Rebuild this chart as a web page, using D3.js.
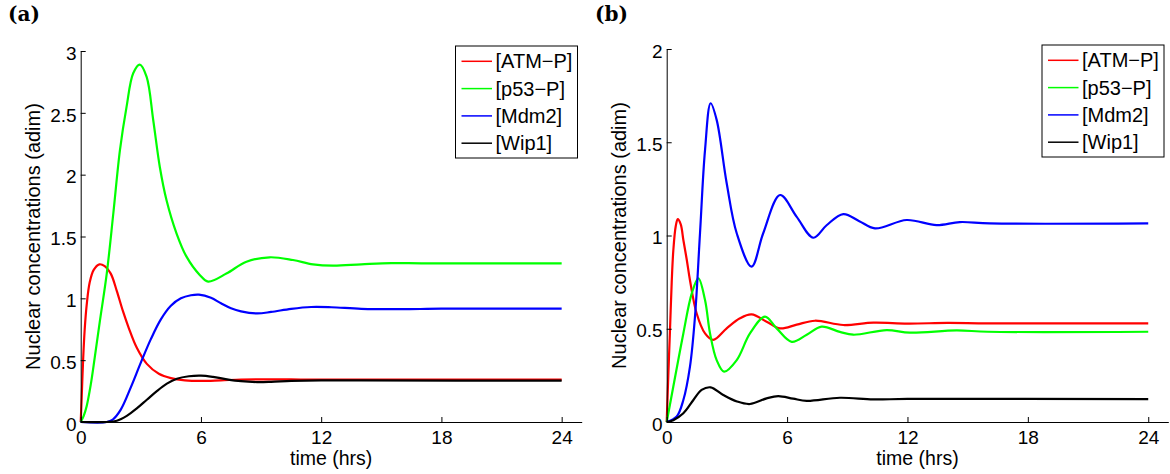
<!DOCTYPE html>
<html>
<head>
<meta charset="utf-8">
<script src="https://cdn.jsdelivr.net/npm/d3@7"></script>
<style>
  html, body { margin: 0; padding: 0; background: #fff; }
  svg { display: block; }
  text { font-family: "Liberation Sans", Arial, Helvetica, sans-serif; fill: #000; }
</style>
</head>
<body>
<svg id="chart" width="1170" height="474"></svg>
<script>
// ---------- DATA ----------
const seriesNames = ["[ATM\u2212P]", "[p53\u2212P]", "[Mdm2]", "[Wip1]"];
const seriesColors = ["#ff0000", "#00ff00", "#0000ff", "#000000"];
const xTicks = [0, 6, 12, 18, 24];
const yTicksA = [0, 0.5, 1, 1.5, 2, 2.5, 3];
const yTicksB = [0, 0.5, 1, 1.5, 2];

// Panel (a)
const tAtmA = [0, 0.05, 0.12, 0.2, 0.3, 0.45, 0.65, 0.93, 1.2, 1.5, 1.8, 2.1, 2.4, 2.8, 3.3, 3.9, 4.5, 5.2, 6.0, 7.0, 8.0, 9.0, 10.5, 12, 15, 18, 21, 24];
const vAtmA = [0, 0.2, 0.5, 0.75, 0.95, 1.13, 1.23, 1.275, 1.26, 1.2, 1.06, 0.9, 0.76, 0.6, 0.47, 0.39, 0.355, 0.337, 0.332, 0.337, 0.343, 0.345, 0.344, 0.343, 0.343, 0.343, 0.343, 0.343];
const tP53A = [0, 0.15, 0.3, 0.5, 0.7, 0.96, 1.3, 1.63, 1.96, 2.29, 2.62, 2.95, 3.29, 3.62, 3.95, 4.28, 4.78, 5.28, 5.94, 6.36, 7.27, 8.27, 9.43, 10.59, 11.59, 12.59, 14, 15.5, 17, 20, 24];
const vP53A = [0, 0.05, 0.13, 0.3, 0.52, 0.82, 1.2, 1.69, 2.2, 2.55, 2.82, 2.89, 2.79, 2.44, 2.06, 1.795, 1.526, 1.337, 1.189, 1.135, 1.2, 1.296, 1.332, 1.31, 1.275, 1.264, 1.275, 1.285, 1.283, 1.283, 1.283];
const tMdmA = [0, 1.3, 1.6, 2.0, 2.5, 3.0, 3.5, 4.0, 4.5, 5.0, 5.5, 5.9, 6.5, 7.0, 7.5, 8.0, 8.8, 9.5, 10.5, 11.5, 12.5, 14, 16, 18, 24];
const vMdmA = [0, 0, 0.02, 0.1, 0.28, 0.48, 0.67, 0.83, 0.94, 1.0, 1.025, 1.03, 1.005, 0.96, 0.92, 0.895, 0.878, 0.89, 0.915, 0.93, 0.928, 0.915, 0.912, 0.916, 0.916];
const tWipA = [0, 1.3, 1.8, 2.3, 2.8, 3.3, 3.8, 4.3, 4.8, 5.4, 6.0, 6.6, 7.3, 8.0, 8.8, 9.5, 10.5, 12, 14, 24];
const vWipA = [0, 0, 0.01, 0.05, 0.11, 0.18, 0.25, 0.31, 0.35, 0.37, 0.375, 0.365, 0.345, 0.33, 0.323, 0.325, 0.332, 0.337, 0.336, 0.335];

// Panel (b)
const tAtmB = [0, 0.08, 0.16, 0.25, 0.33, 0.45, 0.55, 0.7, 0.83, 1.0, 1.16, 1.49, 1.91, 2.32, 2.99, 3.65, 4.23, 4.98, 5.65, 6.48, 7.39, 8.8, 10.3, 12, 14, 16, 24];
const vAtmB = [0, 0.25, 0.48, 0.75, 0.92, 1.05, 1.088, 1.06, 0.976, 0.87, 0.76, 0.583, 0.475, 0.44, 0.502, 0.556, 0.577, 0.538, 0.502, 0.522, 0.543, 0.52, 0.533, 0.528, 0.531, 0.529, 0.529];
const tP53B = [0, 0.33, 0.83, 1.25, 1.58, 1.91, 2.16, 2.49, 2.86, 3.49, 4.15, 4.9, 5.48, 6.23, 6.98, 7.72, 8.63, 9.3, 10.96, 12.12, 14.45, 16, 24];
const vP53B = [0, 0.19, 0.475, 0.69, 0.77, 0.654, 0.475, 0.332, 0.27, 0.332, 0.475, 0.565, 0.502, 0.43, 0.468, 0.511, 0.483, 0.468, 0.493, 0.479, 0.491, 0.484, 0.484];
const tMdmB = [0, 0.5, 0.83, 1.16, 1.41, 1.66, 1.91, 2.19, 2.49, 2.99, 3.49, 4.23, 4.81, 5.65, 6.48, 7.31, 7.97, 8.8, 9.6, 10.38, 11.96, 13.45, 14.61, 16.1, 24];
const vMdmB = [0, 0.03, 0.118, 0.297, 0.565, 1.012, 1.458, 1.709, 1.62, 1.28, 1.012, 0.833, 1.012, 1.217, 1.1, 0.988, 1.055, 1.115, 1.077, 1.038, 1.083, 1.056, 1.072, 1.065, 1.065];
const tWipB = [0, 0.33, 0.83, 1.33, 1.74, 2.19, 2.82, 3.5, 4.15, 4.98, 5.56, 6.3, 6.98, 8.63, 10.3, 12, 24];
const vWipB = [0, 0.01, 0.047, 0.118, 0.172, 0.186, 0.145, 0.11, 0.0965, 0.127, 0.139, 0.125, 0.113, 0.13, 0.121, 0.124, 0.123];

// ---------- DRAW ----------
const svg = d3.select("#chart");
const zip = (ts, vs) => ts.map((t, i) => ({t: t, v: vs[i]}));

function panel(cfg) {
  const x = d3.scaleLinear().domain([0, 25]).range([cfg.x0, cfg.x1]);
  const y = d3.scaleLinear().domain([0, cfg.ymax]).range([cfg.yBottom, cfg.yTop]);
  const g = svg.append("g");

  // lines
  const line = d3.line().x(d => x(d.t)).y(d => y(d.v)).curve(d3.curveCatmullRom.alpha(0.5));
  cfg.series.forEach((s, i) => {
    g.append("path").datum(s).attr("d", line)
      .attr("fill", "none").attr("stroke", seriesColors[i])
      .attr("stroke-width", 2.2).attr("stroke-linejoin", "round");
  });

  // x axis
  const xa = g.append("g").attr("transform", `translate(0,${cfg.yBottom})`)
    .call(d3.axisBottom(x).tickValues(xTicks).tickSizeInner(-5).tickSizeOuter(0).tickPadding(0).tickFormat(d3.format("d")));
  xa.select(".domain").attr("stroke", "#000").attr("stroke-width", 1);
  xa.selectAll(".tick line").attr("stroke", "#000");
  xa.selectAll(".tick text").attr("font-size", 19).attr("font-family", "Liberation Sans, Arial, sans-serif")
    .attr("y", 21.5).attr("dy", 0);

  // y axis
  const ya = g.append("g").attr("transform", `translate(${cfg.x0},0)`)
    .call(d3.axisLeft(y).tickValues(cfg.yTicks).tickSizeInner(-5).tickSizeOuter(0).tickPadding(0).tickFormat(d3.format("~g")));
  ya.select(".domain").attr("stroke", "#000").attr("stroke-width", 1);
  ya.selectAll(".tick line").attr("stroke", "#000");
  ya.selectAll(".tick text").attr("font-size", 19).attr("font-family", "Liberation Sans, Arial, sans-serif")
    .attr("x", -4).attr("dy", 8.2);

  // axis labels
  g.append("text").attr("x", (cfg.x0 + cfg.x1) / 2).attr("y", 465)
    .attr("text-anchor", "middle").attr("font-size", 19.5).text("time (hrs)");
  g.append("text").attr("transform", `translate(${cfg.ylabX},${(cfg.yTop + cfg.yBottom) / 2}) rotate(-90)`)
    .attr("text-anchor", "middle").attr("font-size", 20).text("Nuclear concentrations (adim)");

  // panel tag
  g.append("text").attr("x", cfg.tagX).attr("y", 21)
    .attr("font-weight", "bold").attr("font-size", 20)
    .style("font-family", "DejaVu Serif, serif").text(cfg.tag);

  // legend
  const lg = g.append("g").attr("transform", `translate(${cfg.legX},${cfg.legY})`);
  lg.append("rect").attr("x", 0.5).attr("y", 0.5).attr("width", 122).attr("height", 112)
    .attr("fill", "#fff").attr("stroke", "#000").attr("stroke-width", 1);
  seriesNames.forEach((n, i) => {
    const yy = 15.8 + i * 27.3;
    lg.append("line").attr("x1", 6.5).attr("x2", 37).attr("y1", yy).attr("y2", yy)
      .attr("stroke", seriesColors[i]).attr("stroke-width", 1.5);
    lg.append("text").attr("x", 40.5).attr("y", yy + 7).attr("font-size", 20).text(n);
  });
}

panel({
  x0: 80.7, x1: 581.7, yBottom: 422, yTop: 51, ymax: 3, yTicks: yTicksA,
  ylabX: 40, tag: "(a)", tagX: 8, legX: 455, legY: 45.5,
  series: [zip(tAtmA, vAtmA), zip(tP53A, vP53A), zip(tMdmA, vMdmA), zip(tWipA, vWipA)]
});
panel({
  x0: 666.7, x1: 1168.3, yBottom: 422, yTop: 49, ymax: 2, yTicks: yTicksB,
  ylabX: 626, tag: "(b)", tagX: 595, legX: 1041.5, legY: 44.5,
  series: [zip(tAtmB, vAtmB), zip(tP53B, vP53B), zip(tMdmB, vMdmB), zip(tWipB, vWipB)]
});
</script>
</body>
</html>
